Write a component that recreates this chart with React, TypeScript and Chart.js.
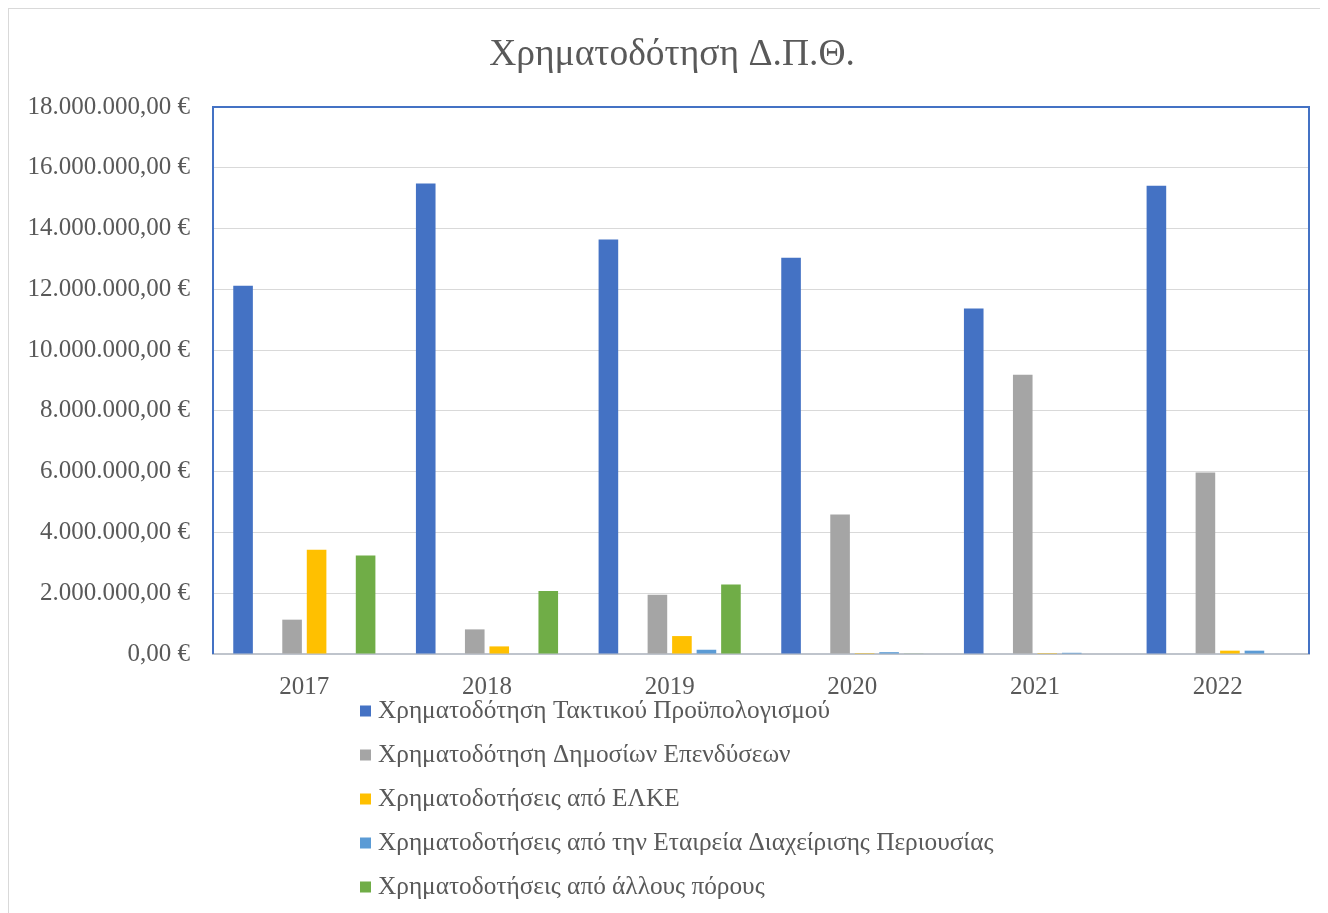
import React, { useEffect, useRef } from "react";
import { Chart, registerables } from "chart.js";

Chart.register(...registerables);

const chartTitle = "Χρηματοδότηση Δ.Π.Θ.";
const years = ["2017", "2018", "2019", "2020", "2021", "2022"];
const seriesNames = [
  "Χρηματοδότηση Τακτικού Προϋπολογισμού",
  "",
  "Χρηματοδότηση Δημοσίων Επενδύσεων",
  "Χρηματοδοτήσεις από ΕΛΚΕ",
  "Χρηματοδοτήσεις από την Εταιρεία Διαχείρισης Περιουσίας",
  "Χρηματοδοτήσεις από άλλους πόρους",
];
const tactical = [12120000, 15480000, 13640000, 13040000, 11370000, 15410000];
const emptySeries = [null, null, null, null, null, null];
const publicInvest = [1130000, 810000, 1950000, 4590000, 9190000, 5970000];
const elke = [3430000, 250000, 590000, 30000, 30000, 110000];
const assetCompany = [0, 0, 140000, 60000, 40000, 110000];
const otherSources = [3240000, 2070000, 2290000, 20000, 0, 0];
const colors = ["#4472C4", "rgba(0,0,0,0)", "#A5A5A5", "#FFC000", "#5B9BD5", "#70AD47"];
const yMax = 18000000;
const yStep = 2000000;

const FONT = "'Liberation Serif', 'Times New Roman', serif";
const TEXT = "#595959";

function formatEuro(v: number): string {
  const s = Math.round(v).toString();
  const grouped = s.replace(/\B(?=(\d{3})+(?!\d))/g, ".");
  return grouped + ",00 €";
}

const plotBorder = {
  id: "plotBorder",
  beforeDatasetsDraw(chart: any) {
    const { ctx, chartArea } = chart;
    ctx.save();
    ctx.strokeStyle = "#4472C4";
    ctx.lineWidth = 2;
    ctx.beginPath();
    ctx.moveTo(chartArea.left, chartArea.bottom);
    ctx.lineTo(chartArea.left, chartArea.top);
    ctx.lineTo(chartArea.right, chartArea.top);
    ctx.lineTo(chartArea.right, chartArea.bottom);
    ctx.stroke();
    ctx.restore();
  },
};

const titlePlugin = {
  id: "centeredTitle",
  afterDraw(chart: any) {
    const { ctx } = chart;
    ctx.save();
    ctx.font = `37.5px ${FONT}`;
    ctx.fillStyle = TEXT;
    ctx.textAlign = "center";
    ctx.textBaseline = "middle";
    ctx.fillText(chartTitle, chart.width / 2 + 3, 46);
    ctx.restore();
  },
};

const verticalLegend = {
  id: "verticalLegend",
  afterDraw(chart: any) {
    const { ctx, chartArea } = chart;
    const items = chart.data.datasets.filter((d: any) => d.label);
    ctx.save();
    ctx.font = `25.3px ${FONT}`;
    const box = 11;
    const gap = 7;
    let maxW = 0;
    items.forEach((d: any) => {
      maxW = Math.max(maxW, ctx.measureText(d.label).width);
    });
    const blockW = box + gap + maxW;
    const x0 = Math.round(chart.width / 2 + 8 - blockW / 2);
    const y0 = chartArea.bottom + 57;
    const step = 44;
    items.forEach((d: any, i: number) => {
      const cy = y0 + i * step;
      ctx.fillStyle = d.backgroundColor;
      ctx.fillRect(x0, cy - box / 2, box, box);
      ctx.fillStyle = TEXT;
      ctx.textBaseline = "middle";
      ctx.textAlign = "left";
      ctx.fillText(d.label, x0 + box + gap, cy);
    });
    ctx.restore();
  },
};

export default function App() {
  const ref = useRef<HTMLCanvasElement | null>(null);

  useEffect(() => {
    if (!ref.current) return;
    const dataSeries = [tactical, emptySeries, publicInvest, elke, assetCompany, otherSources];
    const chart = new Chart(ref.current, {
      type: "bar",
      data: {
        labels: years,
        datasets: dataSeries.map((d, i) => ({
          label: seriesNames[i],
          data: d as any,
          backgroundColor: colors[i],
          borderWidth: 0,
          barPercentage: 0.8,
          categoryPercentage: 0.805,
        })),
      },
      options: {
        responsive: false,
        animation: false,
        layout: { padding: { left: 0, right: 20, top: 98, bottom: 200 } },
        plugins: {
          legend: { display: false },
          tooltip: { enabled: false },
          title: { display: false },
        },
        scales: {
          x: {
            grid: { display: false, drawTicks: false },
            border: { display: true, color: "#BFC4CC", width: 2 },
            ticks: {
              color: TEXT,
              font: { family: FONT, size: 25 },
              padding: 18,
            },
            afterFit(scale: any) {
              scale.height = 60;
            },
          },
          y: {
            min: 0,
            max: yMax,
            grid: { color: "#D9D9D9", lineWidth: 1, drawTicks: false },
            border: { display: false },
            ticks: {
              stepSize: yStep,
              color: TEXT,
              font: { family: FONT, size: 25 },
              padding: 23,
              callback: (v: any) => formatEuro(Number(v)),
            },
            afterFit(scale: any) {
              scale.width = 204;
            },
          },
        },
      },
      plugins: [plotBorder, titlePlugin, verticalLegend],
    });
    return () => chart.destroy();
  }, []);

  return (
    <div
      style={{
        width: 1320,
        height: 905,
        borderLeft: "1px solid #D9D9D9",
        borderTop: "1px solid #D9D9D9",
        background: "#fff",
      }}
    >
      <canvas ref={ref} width={1320} height={905} style={{ display: "block" }} />
    </div>
  );
}
